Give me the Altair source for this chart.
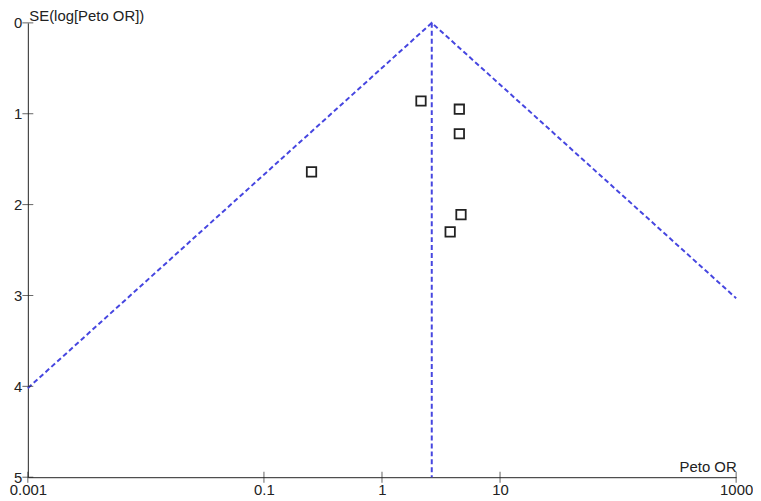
import altair as alt
import pandas as pd

# Study points (Peto OR, SE of log Peto OR)
study_or = [2.14, 4.52, 4.52, 0.253, 4.67, 3.78]
study_se = [0.86, 0.95, 1.22, 1.64, 2.11, 2.30]

# Funnel (pseudo 95% limits) and pooled estimate line
funnel_or = [0.001, 2.64, 1000]
funnel_se = [4.02, 0.0, 3.03]
pooled_or = [2.64, 2.64]
pooled_se = [0.0, 5.0]

x_ticks = [0.001, 0.1, 1, 10, 1000]
y_ticks = [0, 1, 2, 3, 4, 5]

FONT = "Liberation Sans"
BLUE = "#4646e0"
W, H = 714, 458

points = pd.DataFrame({"or": study_or, "se": study_se})
funnel = pd.DataFrame({"or": funnel_or, "se": funnel_se})
pooled = pd.DataFrame({"or": pooled_or, "se": pooled_se})
xt = pd.DataFrame({"or": x_ticks, "se": [5] * len(x_ticks)})
yt = pd.DataFrame({"or": [0.001] * len(y_ticks), "se": y_ticks})

xscale = alt.Scale(type="log", domain=[0.001, 1000], nice=False)
yscale = alt.Scale(domain=[0, 5], reverse=True, nice=False, zero=True)

xaxis = alt.Axis(
    values=x_ticks, format="~g", ticks=False, tickSize=0, grid=False,
    labelPadding=5, labelFontSize=15, labelFont=FONT, labelColor="#222",
    domainColor="#222", domainWidth=1,
    title="Peto OR", titleFont=FONT, titleFontSize=15, titleFontWeight="normal",
    titleColor="#222", titleX=W, titleY=-6, titleAlign="right",
    titleBaseline="alphabetic", labelFlush=False, labelOverlap=False,
)
yaxis = alt.Axis(
    values=y_ticks, format="d", ticks=False, tickSize=0, grid=False,
    labelPadding=6, labelFontSize=15, labelFont=FONT, labelColor="#222",
    domainColor="#222", domainWidth=1,
    title="SE(log[Peto OR])", titleFont=FONT, titleFontSize=15,
    titleFontWeight="normal", titleColor="#222", titleAngle=0,
    titleX=1, titleY=-2, titleAlign="left", titleBaseline="alphabetic",
    labelFlush=False, labelOverlap=False,
)

x_enc = alt.X("or:Q", scale=xscale, axis=xaxis)
y_enc = alt.Y("se:Q", scale=yscale, axis=yaxis)
x_plain = alt.X("or:Q", scale=xscale)
y_plain = alt.Y("se:Q", scale=yscale)

funnel_layer = alt.Chart(funnel).mark_line(
    color=BLUE, strokeWidth=2, strokeDash=[5, 3]
).encode(x=x_enc, y=y_enc, order=alt.Order("or:Q"))

pooled_layer = alt.Chart(pooled).mark_line(
    color=BLUE, strokeWidth=2, strokeDash=[5, 3]
).encode(x=x_plain, y=y_plain)

xtick_layer = alt.Chart(xt).mark_tick(
    orient="vertical", size=11, thickness=1, color="#222"
).encode(x=x_plain, y=y_plain)

ytick_layer = alt.Chart(yt).mark_tick(
    orient="horizontal", size=11, thickness=1, color="#222"
).encode(x=x_plain, y=y_plain)

point_layer = alt.Chart(points).mark_square(
    filled=False, size=90, stroke="#222", strokeWidth=1.8, opacity=1
).encode(x=x_plain, y=y_plain)

chart = alt.layer(
    funnel_layer, pooled_layer, xtick_layer, ytick_layer, point_layer
).properties(
    width=W, height=H,
    background="white",
    autosize=alt.AutoSizeParams(type="none"),
    padding={"left": 20, "top": 13, "right": 17, "bottom": 22},
).configure_view(
    strokeWidth=0, strokeOpacity=0
).configure_axis(grid=False)

chart.save("out.html", embed_options={"renderer": "svg", "actions": False})
